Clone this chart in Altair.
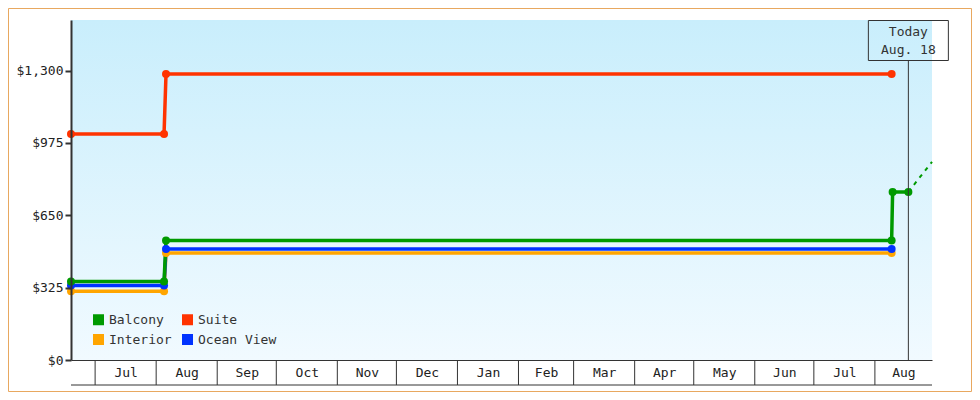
import altair as alt
import pandas as pd

FONT = "DejaVu Sans Mono"

# ---- data ----
series = ["Balcony", "Suite", "Interior", "Ocean View"]
colors = ["#009a00", "#ff3300", "#ffa500", "#0033ff"]

interior_dates = ["2024-06-18T18:00:00", "2024-08-05T00:00:00", "2024-08-06T00:00:00", "2025-08-09T12:00:00"]
interior_vals = [309, 309, 481, 481]

ocean_dates = ["2024-06-18T18:00:00", "2024-08-05T00:00:00", "2024-08-06T00:00:00", "2025-08-09T12:00:00"]
ocean_vals = [335, 335, 499, 499]

suite_dates = ["2024-06-18T18:00:00", "2024-08-05T00:00:00", "2024-08-06T00:00:00", "2025-08-09T12:00:00"]
suite_vals = [1015, 1015, 1285, 1285]

balcony_dates = ["2024-06-18T18:00:00", "2024-08-05T00:00:00", "2024-08-06T00:00:00",
                 "2025-08-09T12:00:00", "2025-08-10T00:00:00", "2025-08-18T00:00:00"]
balcony_vals = [352, 352, 537, 537, 755, 755]

projection_dates = ["2025-08-18T00:00:00", "2025-08-30T00:00:00"]
projection_vals = [755, 890]

today_date = ["2025-08-18T00:00:00"]

month_starts = ["2024-07-01", "2024-08-01", "2024-09-01", "2024-10-01", "2024-11-01", "2024-12-01",
                "2025-01-01", "2025-02-01", "2025-03-01", "2025-04-01", "2025-05-01", "2025-06-01",
                "2025-07-01", "2025-08-01"]
month_labels = ["Jul", "Aug", "Sep", "Oct", "Nov", "Dec", "Jan", "Feb", "Mar", "Apr", "May", "Jun", "Jul", "Aug"]
domain_end = "2025-08-30"

y_ticks = [0, 325, 650, 975, 1300]

# ---- tables ----
rows = []
for name, ds, vs in [("Interior", interior_dates, interior_vals),
                     ("Ocean View", ocean_dates, ocean_vals),
                     ("Suite", suite_dates, suite_vals),
                     ("Balcony", balcony_dates, balcony_vals)]:
    for d, v in zip(ds, vs):
        rows.append({"series": name, "date": d, "price": v})
df = pd.DataFrame(rows)

proj_df = pd.DataFrame({"date": projection_dates, "price": projection_vals})

bounds = [pd.Timestamp(m) for m in month_starts] + [pd.Timestamp(domain_end)]
mids = [(bounds[i] + (bounds[i + 1] - bounds[i]) / 2).strftime("%Y-%m-%dT%H:%M:%S") for i in range(len(month_starts))]
ticks_df = pd.DataFrame({"date": [m + "T00:00:00" for m in month_starts]})
today_df = pd.DataFrame({"date": today_date})
one = pd.DataFrame({"a": [0]})

W, H = 861, 340

x_scale = alt.Scale(domain=[alt.DateTime(year=2024, month=6, date=18, hours=18),
                            alt.DateTime(year=2025, month=8, date=30)])
x_axis = alt.Axis(values=[alt.DateTime(year=int(m[:4]), month=int(m[5:7]), date=int(m[8:10]), hours=int(m[11:13]))
                          for m in mids],
                  format="%b", title=None, ticks=False, grid=False, domainColor="#333", domainWidth=1,
                  labelFont=FONT, labelFontSize=13, labelColor="#222", labelPadding=12,
                  labelBaseline="middle", labelFlush=False, labelOverlap=False, zindex=1)
x_enc = alt.X("date:T", scale=x_scale, axis=x_axis)

y_enc = alt.Y("price:Q", scale=alt.Scale(domain=[0, 1527], nice=False, zero=True),
              axis=alt.Axis(values=y_ticks, format="$,d", title=None, grid=False,
                            domainColor="#333", domainWidth=2, tickColor="#333", tickWidth=2,
                            tickSize=6, labelPadding=2, labelFont=FONT, labelFontSize=13,
                            labelColor="#222", zindex=1))

color_enc = alt.Color("series:N", scale=alt.Scale(domain=series, range=colors),
                      legend=alt.Legend(orient="none", legendX=21, legendY=293, columns=2,
                                        direction="horizontal",
                                        symbolType="square", symbolSize=121, symbolStrokeWidth=0,
                                        title=None, labelFont=FONT, labelFontSize=13,
                                        labelColor="#333", columnPadding=9, rowPadding=6,
                                        padding=0, labelOffset=4))

bg = alt.Chart(one).mark_rect(
    color=alt.Gradient(gradient="linear",
                       stops=[alt.GradientStop(color="#c9eefc", offset=0),
                              alt.GradientStop(color="#f1faff", offset=1)],
                       x1=0, x2=0, y1=0, y2=1)
).encode(x=alt.value(0), x2=alt.value(W), y=alt.value(0), y2=alt.value(H))

month_rules = alt.Chart(ticks_df).mark_rule(color="#333", strokeWidth=1).encode(
    x=x_enc, y=alt.value(H), y2=alt.value(H + 25))

bottom_line = alt.Chart(one).mark_rule(color="#333", strokeWidth=1).encode(
    x=alt.value(0), x2=alt.value(W), y=alt.value(H + 25))

lines = alt.Chart(df).mark_line(strokeWidth=3.5).encode(x=x_enc, y=y_enc, color=color_enc)

proj = alt.Chart(proj_df).mark_line(strokeWidth=2, strokeDash=[4, 5], color="#009a00").encode(
    x=x_enc, y=y_enc)

pts = alt.Chart(df).mark_point(filled=True, size=64, opacity=1, shape="circle").encode(
    x=x_enc, y=y_enc, color=color_enc)

today_rule = alt.Chart(today_df).mark_rule(color="#333", strokeWidth=1).encode(
    x=x_enc, y=alt.value(40), y2=alt.value(H))

today_box = alt.Chart(today_df).mark_rect(fillOpacity=0, stroke="#333", strokeWidth=1,
                                          xOffset=-40, x2Offset=40).encode(
    x=x_enc, x2="date:T", y=alt.value(0.5), y2=alt.value(40.5))

today_t1 = alt.Chart(today_df).mark_text(font=FONT, fontSize=13, color="#333", baseline="middle").encode(
    x=x_enc, y=alt.value(12), text=alt.value("Today"))
today_t2 = alt.Chart(today_df).mark_text(font=FONT, fontSize=13, color="#333", baseline="middle").encode(
    x=x_enc, y=alt.value(30), text=alt.value("Aug. 18"))

border = alt.Chart(one).mark_rect(fillOpacity=0, stroke="#e8a860", strokeWidth=1).encode(
    x=alt.value(-62.5), x2=alt.value(900.5), y=alt.value(-11.5), y2=alt.value(371.5))

chart = alt.layer(bg, month_rules, bottom_line, lines, proj, pts, today_rule, today_box,
                  today_t1, today_t2, border).properties(
    width=W, height=H,
    padding={"left": 63, "top": 12, "right": 40, "bottom": 32},
    autosize=alt.AutoSizeParams(type="none"),
    background="white",
).configure_view(strokeOpacity=0)

chart.save("out.html", embed_options={"renderer": "svg", "actions": False})
